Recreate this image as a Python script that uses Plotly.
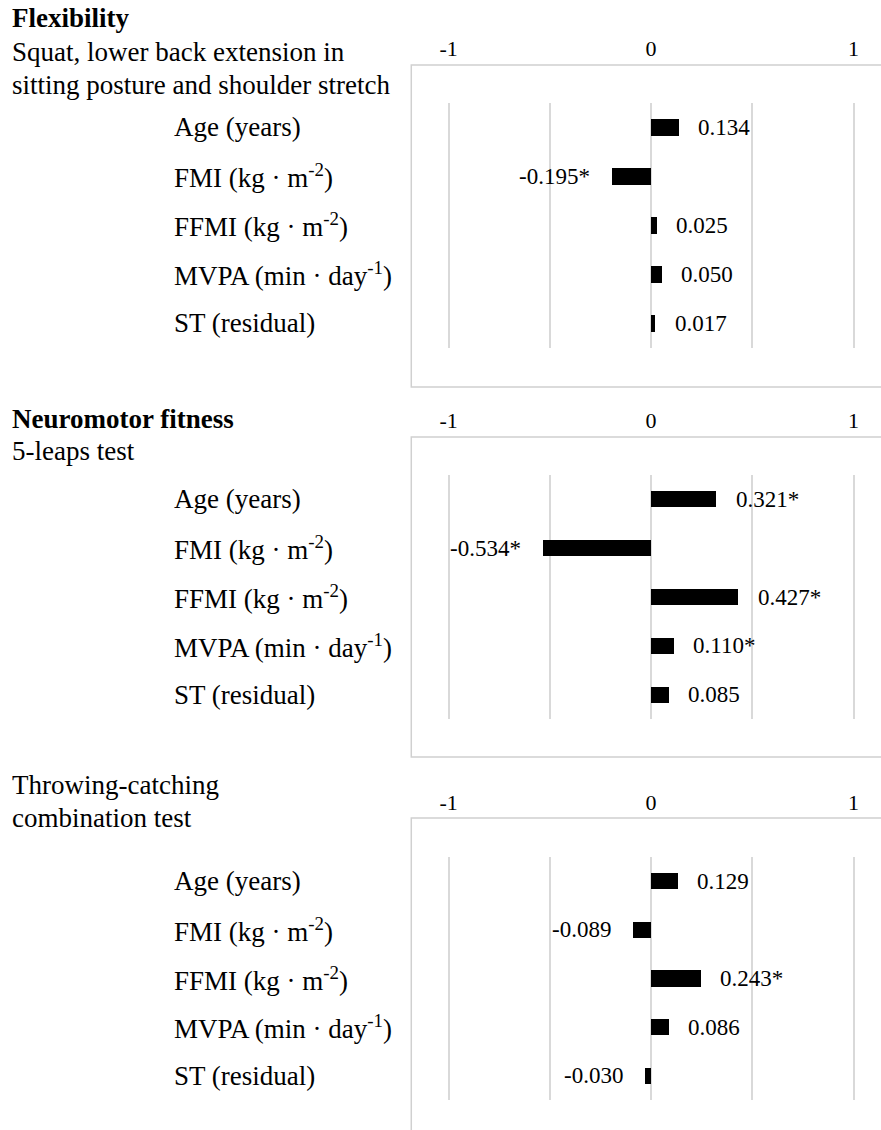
import plotly.graph_objects as go

# ---------------- data ----------------
categories = ["Age (years)", "FMI (kg · m<sup>-2</sup>)", "FFMI (kg · m<sup>-2</sup>)",
              "MVPA (min · day<sup>-1</sup>)", "ST (residual)"]
flex_values = [0.134, -0.195, 0.025, 0.050, 0.017]
flex_labels = ["0.134", "-0.195*", "0.025", "0.050", "0.017"]
neuro_values = [0.321, -0.534, 0.427, 0.110, 0.085]
neuro_labels = ["0.321*", "-0.534*", "0.427*", "0.110*", "0.085"]
throw_values = [0.129, -0.089, 0.243, 0.086, -0.030]
throw_labels = ["0.129", "-0.089", "0.243*", "0.086", "-0.030"]
tick_vals = [-1, 0, 1]
tick_text = ["-1", "0", "1"]
minor_grid_vals = [-0.5, 0.5]

panel_titles = [
    [("<b>Flexibility</b>", 18), ("Squat, lower back extension in", 52), ("sitting posture and shoulder stretch", 85)],
    [("<b>Neuromotor fitness</b>", 419), ("5-leaps test", 451)],
    [("Throwing-catching", 785), ("combination test", 818)],
]

# ---------------- layout constants ----------------
W, H = 881, 1130
FONT = "Liberation Serif"


def px(x):
    return x / W


def py(y):
    return 1 - y / H


plot_tops = [103, 475, 857]
plot_bottoms = [348, 719, 1100]
box_tops = [65, 437, 818]
box_bottoms = [387, 757, 1160]
XR = 1.015
unit = (856.3 - 447.7) / 2.0
x_left, x_right = 651.0 - XR * unit, 651.0 + XR * unit

panels = [(flex_values, flex_labels), (neuro_values, neuro_labels), (throw_values, throw_labels)]

fig = go.Figure()
annotations = []
shapes = []

for i, (vals, labs) in enumerate(panels):
    n = i + 1
    xa = "x" if n == 1 else f"x{n}"
    ya = "y" if n == 1 else f"y{n}"
    fig.add_trace(go.Bar(
        x=vals, y=categories, orientation="h", width=0.33,
        marker=dict(color="black", line=dict(width=0)),
        xaxis=xa, yaxis=ya, showlegend=False, hoverinfo="skip",
    ))
    xkey = "xaxis" if n == 1 else f"xaxis{n}"
    ykey = "yaxis" if n == 1 else f"yaxis{n}"
    fig.layout[xkey] = dict(
        domain=[px(x_left), px(x_right)], anchor=ya, range=[-XR, XR],
        side="top", tickvals=tick_vals, ticktext=tick_text, ticks="",
        showgrid=True, gridcolor="#d9d9d9", gridwidth=1.5, zeroline=False,
        minor=dict(tickvals=minor_grid_vals, showgrid=True, gridcolor="#d9d9d9",
                   gridwidth=1.5, ticks=""),
        showline=False, ticklabelstandoff=42,
        tickfont=dict(family=FONT, size=22, color="black"), fixedrange=True,
    )
    fig.layout[ykey] = dict(
        domain=[py(plot_bottoms[i]), py(plot_tops[i])], anchor=xa,
        type="category", categoryorder="array", categoryarray=categories,
        range=[4.5, -0.5], showticklabels=False, showgrid=False,
        zeroline=False, showline=False, ticks="", fixedrange=True,
    )
    # box around each panel
    shapes.append(dict(type="rect", xref="paper", yref="paper",
                       x0=px(409), x1=1.02, y0=py(box_bottoms[i]), y1=py(box_tops[i]),
                       line=dict(color="#d0d0d0", width=1.5), layer="below"))
    # category labels
    for c in categories:
        annotations.append(dict(xref="paper", yref=ya, x=px(168), y=c, text=c,
                                xanchor="left", yanchor="middle", showarrow=False,
                                font=dict(family=FONT, size=27, color="black")))
    # value labels
    for v, c, t in zip(vals, categories, labs):
        annotations.append(dict(xref=xa, yref=ya, x=v, y=c, text=t,
                                xanchor="left" if v >= 0 else "right",
                                xshift=18 if v >= 0 else -20,
                                yanchor="middle", showarrow=False,
                                font=dict(family=FONT, size=23, color="black")))
    # panel titles
    for t, yy in panel_titles[i]:
        annotations.append(dict(xref="paper", yref="paper", x=px(4), y=py(yy), text=t,
                                xanchor="left", yanchor="middle", showarrow=False,
                                font=dict(family=FONT, size=27, color="black")))

fig.update_layout(
    width=W, height=H, margin=dict(l=0, r=0, t=0, b=0),
    paper_bgcolor="white", plot_bgcolor="white",
    annotations=annotations, shapes=shapes, bargap=0,
    font=dict(family=FONT, color="black"),
)

fig.write_html("out.html", config={"displayModeBar": False})
